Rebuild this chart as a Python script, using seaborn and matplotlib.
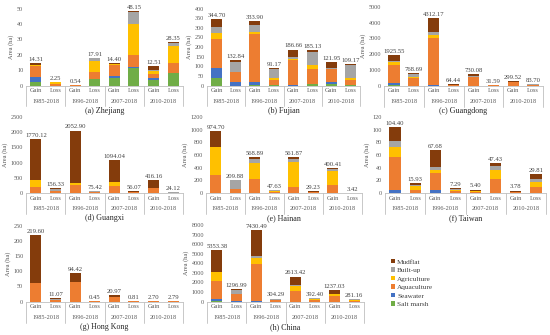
import matplotlib
matplotlib.use("Agg")
import matplotlib.pyplot as plt
import seaborn as sns
import pandas as pd
from matplotlib.patches import Patch

sns.set_theme(style="white")
plt.rcParams['font.family'] = ['Liberation Serif', 'DejaVu Serif']

# ---------------- data ----------------
bars = ["Gain", "Loss", "Gain", "Loss", "Gain", "Loss", "Gain", "Loss"]
periods = ["1985-2018", "1996-2018", "2007-2018", "2010-2018"]
layers = ["Salt marsh", "Seawater", "Aquaculture", "Agriculture", "Built-up", "Mudflat"]
colors = {"Salt marsh": "#70AD47", "Seawater": "#4472C4", "Aquaculture": "#ED7D31",
          "Agriculture": "#FFC000", "Built-up": "#A5A5A5", "Mudflat": "#843C0C"}

zj_salt = [2.0, 0, 0, 4.1, 5.0, 11.5, 3.5, 7.8]
zj_sea = [3.4, 0, 0, 0, 1.3, 0.8, 1.2, 0]
zj_aqua = [7.5, 0.8, 0.54, 4.6, 7.2, 7.7, 2.8, 6.8]
zj_agri = [0.5, 1.2, 0, 7.4, 0.3, 20.0, 2.0, 10.8]
zj_built = [0.2, 0.25, 0, 1.7, 0.2, 7.8, 0.5, 2.4]
zj_mud = [0.71, 0, 0, 0.11, 0.4, 0.35, 2.51, 0.55]

fj_salt = [40, 0, 5, 5, 0, 9, 9, 2]
fj_sea = [53, 17, 15, 0, 4, 0, 10, 0]
fj_aqua = [147, 53, 248, 25, 127, 79, 66, 28]
fj_agri = [32, 0, 10, 8, 5, 17, 2, 10]
fj_built = [30, 52, 37, 50, 10, 70, 3, 65]
fj_mud = [42.7, 10.84, 18.9, 3.17, 40.66, 10.13, 31.95, 4.17]

gd_salt = [30, 0, 0, 0, 0, 0, 0, 0]
gd_sea = [120, 0, 50, 0, 0, 0, 0, 0]
gd_aqua = [1140, 480, 2950, 40, 520, 20, 200, 50]
gd_agri = [210, 30, 240, 0, 40, 0, 20, 0]
gd_built = [40, 200, 190, 10, 30, 5, 10, 20]
gd_mud = [385.55, 58.69, 882.17, 14.44, 140.08, 6.59, 69.52, 13.70]

gx_salt = [0, 0, 0, 0, 0, 0, 0, 0]
gx_sea = [0, 0, 0, 0, 0, 0, 0, 0]
gx_aqua = [190, 80, 270, 40, 240, 30, 160, 12]
gx_agri = [250, 0, 60, 0, 120, 0, 10, 0]
gx_built = [0, 40, 0, 15, 0, 12, 0, 5]
gx_mud = [1330.12, 36.33, 1722.90, 20.42, 734.04, 14.07, 246.16, 7.12]

hn_salt = [0, 0, 0, 0, 0, 0, 0, 0]
hn_sea = [0, 0, 0, 0, 0, 0, 0, 0]
hn_aqua = [280, 70, 215, 20, 100, 15, 125, 2]
hn_agri = [450, 0, 265, 5, 395, 0, 230, 0]
hn_built = [0, 130, 60, 15, 45, 8, 20, 0]
hn_mud = [244.70, 9.88, 28.89, 7.63, 21.87, 6.23, 25.41, 1.42]

tw_salt = [0, 0, 0, 0, 0, 0, 0, 0]
tw_sea = [5, 0, 4, 0, 0, 0, 0, 0]
tw_aqua = [52, 5, 28, 3, 2, 22, 1.5, 10]
tw_agri = [15, 6, 4, 2, 0.5, 14.5, 0.5, 8]
tw_built = [10, 2, 4.7, 1, 0, 6.5, 0, 4]
tw_mud = [22.4, 2.93, 26.98, 1.29, 2.9, 4.43, 1.78, 7.81]

hk_salt = [0, 0, 0, 0, 0, 0, 0, 0]
hk_sea = [0, 0, 0, 0, 0, 0, 0, 0]
hk_aqua = [60, 5, 66, 0.3, 16, 0.5, 1.5, 1.5]
hk_agri = [0, 0, 0, 0, 0, 0, 0, 0]
hk_built = [0, 3, 0, 0, 0, 0, 0, 0.5]
hk_mud = [159.6, 3.07, 28.42, 0.15, 4.97, 0.31, 1.2, 0.79]

cn_salt = [40, 0, 0, 0, 0, 0, 0, 0]
cn_sea = [200, 20, 80, 0, 0, 0, 0, 0]
cn_aqua = [1940, 720, 3820, 150, 1050, 150, 530, 100]
cn_agri = [910, 40, 660, 40, 600, 60, 240, 30]
cn_built = [0, 440, 240, 70, 50, 120, 30, 110]
cn_mud = [2263.38, 76.99, 2630.49, 44.29, 913.42, 62.40, 437.03, 41.16]

panels = [
    ("(a) Zhejiang", [zj_salt, zj_sea, zj_aqua, zj_agri, zj_built, zj_mud], 50, 10, (26, 8.5, 183, 85.5)),
    ("(b) Fujian", [fj_salt, fj_sea, fj_aqua, fj_agri, fj_built, fj_mud], 400, 50, (207, 8.5, 360, 85.5)),
    ("(c) Guangdong", [gd_salt, gd_sea, gd_aqua, gd_agri, gd_built, gd_mud], 5000, 1000, (384, 7, 543, 85.5)),
    ("(d) Guangxi", [gx_salt, gx_sea, gx_aqua, gx_agri, gx_built, gx_mud], 2500, 500, (26, 117, 183, 193)),
    ("(e) Hainan", [hn_salt, hn_sea, hn_aqua, hn_agri, hn_built, hn_mud], 1200, 200, (206, 117, 362, 193)),
    ("(f) Taiwan", [tw_salt, tw_sea, tw_aqua, tw_agri, tw_built, tw_mud], 120, 20, (385, 117, 546, 193)),
    ("(g) Hong Kong", [hk_salt, hk_sea, hk_aqua, hk_agri, hk_built, hk_mud], 250, 50, (26, 226, 183, 301.5)),
    ("(h) China", [cn_salt, cn_sea, cn_aqua, cn_agri, cn_built, cn_mud], 8000, 1000, (207, 225, 364, 301.5)),
]

W, H = 550, 335
fig = plt.figure(figsize=(W / 100, H / 100), dpi=100)
tick_col = "#595959"
line_col = "#BFBFBF"

for title, vals, ymax, step, (l, t, r, b) in panels:
    ax = fig.add_axes([l / W, 1 - b / H, (r - l) / W, (b - t) / H])
    hpx = b - t
    order = [str(i) for i in range(8)]
    # cumulative tops, bottom-up
    cum = []
    run = [0.0] * 8
    for v in vals:
        run = [a + c for a, c in zip(run, v)]
        cum.append(run)
    # draw from top layer down (overlay stacking)
    for k in range(len(layers) - 1, -1, -1):
        df = pd.DataFrame({"bar": order, "val": cum[k]})
        sns.barplot(data=df, x="bar", y="val", order=order, color=colors[layers[k]],
                    saturation=1, width=0.56, linewidth=0, ax=ax, errorbar=None)
    totals = cum[-1]
    ax.bar_label(ax.containers[0], labels=[f"{v:.2f}" for v in totals], padding=0.8,
                 fontsize=4.8, color="#404040")
    ax.set_xlim(-0.5, 7.5)
    ax.set_ylim(0, ymax)
    ax.set_yticks(range(0, ymax + 1, step))
    ax.set_yticklabels([str(v) for v in range(0, ymax + 1, step)], fontsize=4.4, color=tick_col)
    ax.set_xticks(range(8))
    ax.set_xticklabels(bars, fontsize=4.5, color=tick_col)
    ax.tick_params(axis="both", length=0, pad=2)
    ax.set_xlabel("")
    ax.set_ylabel("Area (ha)", fontsize=4.6, color=tick_col, labelpad=2)
    for s in ["top", "right", "left"]:
        ax.spines[s].set_visible(False)
    ax.spines["bottom"].set_color(line_col)
    ax.spines["bottom"].set_linewidth(0.6)
    # multi-level category axis
    for i, p in enumerate(periods):
        ax.text(2 * i + 0.5, -16 / hpx, p, transform=ax.get_xaxis_transform(),
                ha="center", va="center", fontsize=4.5, color=tick_col)
    for xs in [-0.5, 1.5, 3.5, 5.5, 7.5]:
        ax.plot([xs, xs], [0, -21 / hpx], transform=ax.get_xaxis_transform(),
                color=line_col, lw=0.6, clip_on=False)
    ax.text(3.5, -25.5 / hpx, title, transform=ax.get_xaxis_transform(),
            ha="center", va="center", fontsize=5.8, color="#262626")

handles = [Patch(facecolor=colors[n], edgecolor="none", label=n) for n in layers[::-1]]
fig.legend(handles=handles, loc="upper left", bbox_to_anchor=(391 / W, 1 - 259 / H),
           frameon=False, fontsize=5.2, handlelength=0.55, handleheight=0.55,
           handletextpad=0.3, labelspacing=0.38, borderaxespad=0, borderpad=0,
           labelcolor="#404040")

fig.savefig("out.png", dpi=100, facecolor="white")
